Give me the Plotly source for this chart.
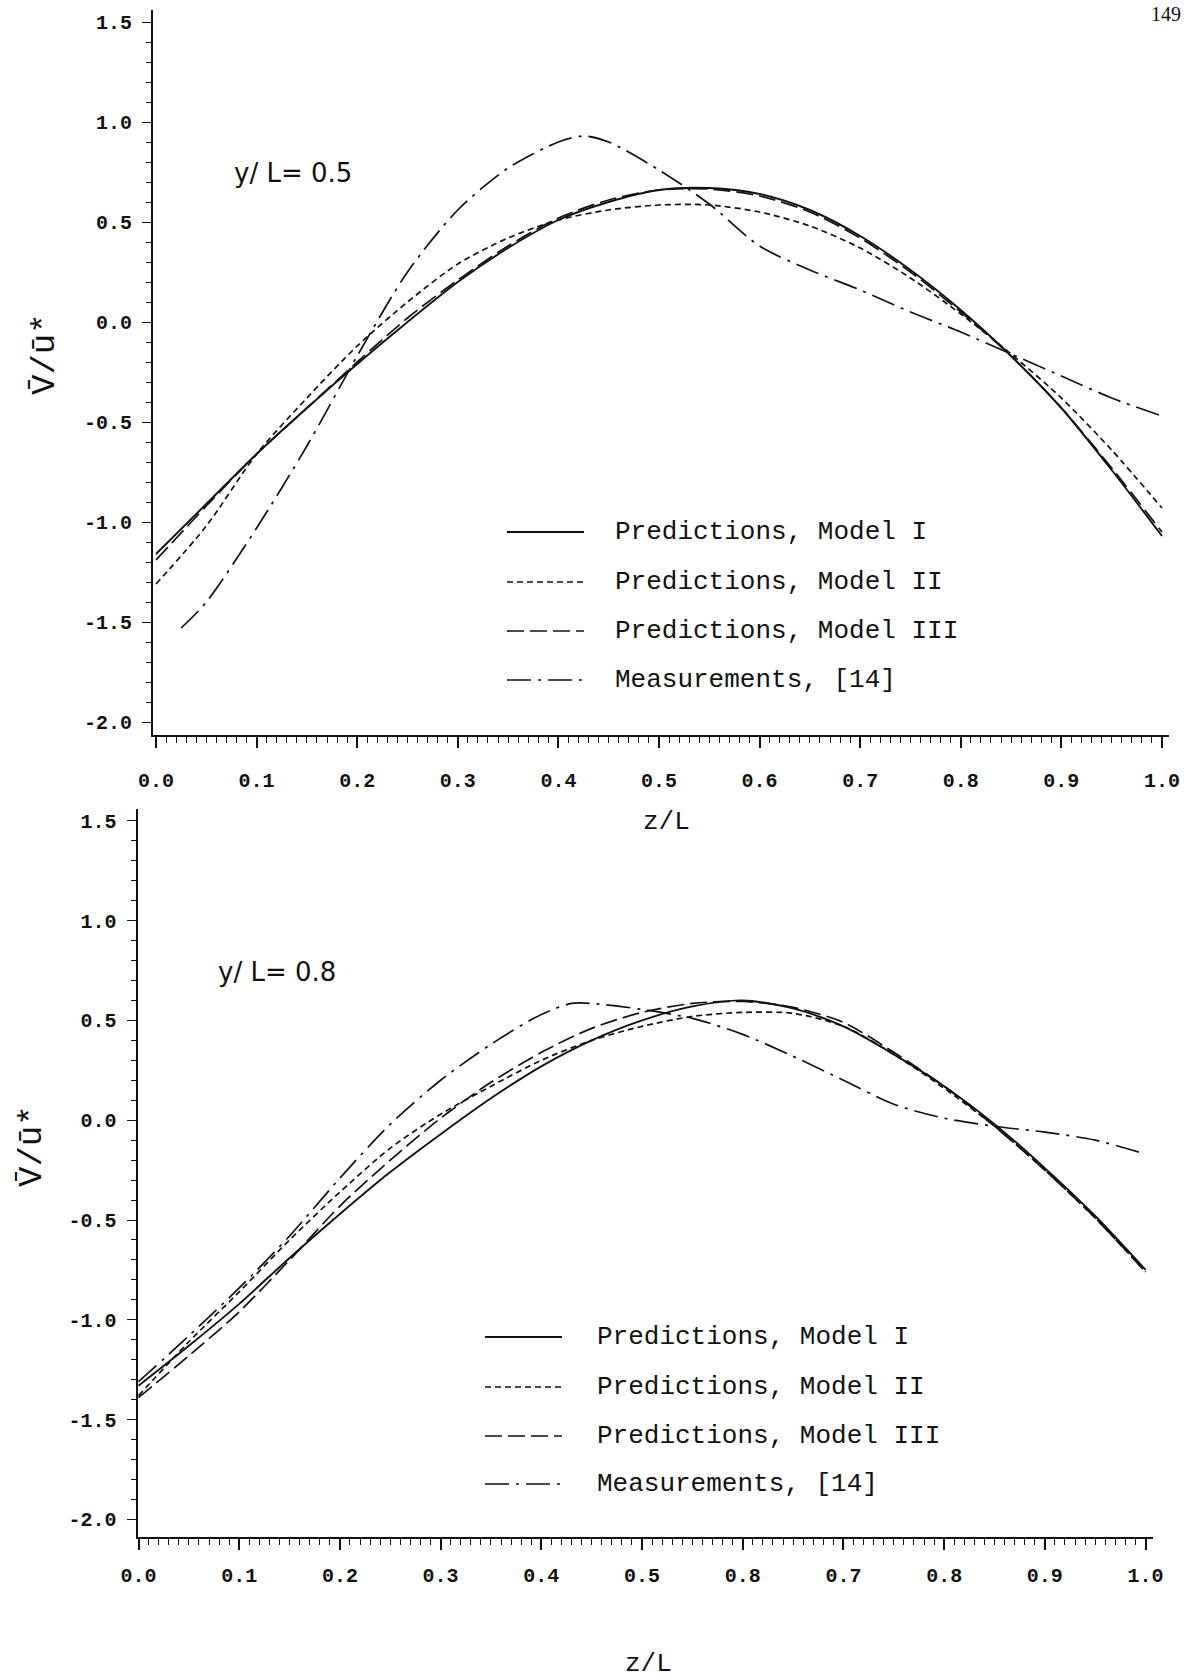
import plotly.graph_objects as go

W, H = 1186, 1680

# ---------------- data ----------------
z = [0.00, 0.05, 0.10, 0.15, 0.20, 0.25, 0.30, 0.35, 0.40, 0.45, 0.50,
     0.55, 0.60, 0.65, 0.70, 0.75, 0.80, 0.85, 0.90, 0.95, 1.00]

# y/L = 0.5
top_model1 = [-1.16, -0.91, -0.66, -0.43, -0.21, 0.00, 0.20, 0.37, 0.51, 0.60, 0.66,
              0.67, 0.64, 0.56, 0.43, 0.26, 0.06, -0.17, -0.43, -0.74, -1.07]
top_model2 = [-1.31, -1.02, -0.66, -0.38, -0.12, 0.10, 0.29, 0.42, 0.51, 0.56, 0.585,
              0.585, 0.55, 0.48, 0.37, 0.22, 0.04, -0.16, -0.38, -0.64, -0.93]
top_model3 = [-1.19, -0.92, -0.66, -0.43, -0.20, 0.02, 0.21, 0.38, 0.52, 0.61, 0.66,
              0.665, 0.63, 0.55, 0.42, 0.25, 0.05, -0.17, -0.43, -0.73, -1.05]
top_meas_z = [0.025, 0.05, 0.10, 0.15, 0.20, 0.25, 0.30, 0.35, 0.40, 0.425, 0.45, 0.50,
              0.55, 0.60, 0.65, 0.70, 0.75, 0.80, 0.85, 0.90, 0.95, 1.00]
top_meas = [-1.53, -1.40, -1.03, -0.62, -0.17, 0.25, 0.56, 0.77, 0.90, 0.93, 0.90, 0.76,
            0.59, 0.38, 0.26, 0.16, 0.05, -0.05, -0.16, -0.27, -0.38, -0.47]

# y/L = 0.8
bot_model1 = [-1.33, -1.13, -0.92, -0.69, -0.47, -0.26, -0.07, 0.11, 0.27, 0.40, 0.50,
              0.57, 0.60, 0.56, 0.47, 0.33, 0.17, -0.02, -0.24, -0.48, -0.75]
bot_model2 = [-1.38, -1.11, -0.86, -0.60, -0.36, -0.14, 0.03, 0.17, 0.30, 0.40, 0.47,
              0.52, 0.54, 0.535, 0.47, 0.33, 0.16, -0.03, -0.25, -0.49, -0.76]
bot_model3 = [-1.39, -1.18, -0.96, -0.70, -0.43, -0.20, 0.01, 0.19, 0.34, 0.46, 0.54,
              0.585, 0.595, 0.565, 0.49, 0.34, 0.17, -0.03, -0.25, -0.49, -0.76]
bot_meas_z = [0.00, 0.05, 0.10, 0.15, 0.20, 0.25, 0.30, 0.35, 0.40, 0.43, 0.45, 0.50,
              0.55, 0.60, 0.65, 0.70, 0.75, 0.80, 0.85, 0.90, 0.95, 1.00]
bot_meas = [-1.31, -1.08, -0.84, -0.58, -0.29, -0.02, 0.20, 0.38, 0.53, 0.585, 0.585, 0.555,
            0.51, 0.43, 0.32, 0.20, 0.08, 0.01, -0.03, -0.06, -0.10, -0.17]

series_names = ["Predictions, Model I", "Predictions, Model II",
                "Predictions, Model III", "Measurements, [14]"]
panel_labels = ["y/ L= 0.5", "y/ L= 0.8"]

x_ticks = [0.0, 0.1, 0.2, 0.3, 0.4, 0.5, 0.6, 0.7, 0.8, 0.9, 1.0]
x_ticktext_top = ["0.0", "0.1", "0.2", "0.3", "0.4", "0.5", "0.6", "0.7", "0.8", "0.9", "1.0"]
x_ticktext_bot = ["0.0", "0.1", "0.2", "0.3", "0.4", "0.5", "0.8", "0.7", "0.8", "0.9", "1.0"]
y_ticks = [-2.0, -1.5, -1.0, -0.5, 0.0, 0.5, 1.0, 1.5]
y_ticktext = ["-2.0", "-1.5", "-1.0", "-0.5", "0.0", "0.5", "1.0", "1.5"]

# ---------------- styles ----------------
INK = "#111111"
DASHES = ["solid", "6px,4px", "17px,6px", "24px,7px,3px,7px"]
WIDTHS = [1.9, 1.7, 1.7, 1.7]
MONO = "Liberation Mono"

fig = go.Figure()


def add_panel(xs_list, ys_list, xa, ya):
    for i, (xs, ys) in enumerate(zip(xs_list, ys_list)):
        fig.add_trace(go.Scatter(
            x=xs, y=ys, mode="lines", name=series_names[i], showlegend=False,
            line=dict(color=INK, width=WIDTHS[i], dash=DASHES[i], shape="spline",
                      smoothing=0.8),
            xaxis=xa, yaxis=ya, hoverinfo="skip"))


add_panel([z, z, z, top_meas_z], [top_model1, top_model2, top_model3, top_meas], "x", "y")
add_panel([z, z, z, bot_meas_z], [bot_model1, bot_model2, bot_model3, bot_meas], "x2", "y2")


def px_x(v):
    return v / W


def px_y(v):
    return 1 - v / H


tick_font = dict(family=MONO, size=20, color=INK, weight="bold")


def xaxis_cfg(dom, rng, ticktext, anchor, standoff):
    return dict(domain=dom, range=rng, anchor=anchor, automargin=False,
                showline=True, linewidth=2, linecolor=INK, mirror=False,
                showgrid=False, zeroline=False,
                ticks="outside", ticklen=11, tickwidth=1.6, tickcolor=INK,
                tickmode="array", tickvals=x_ticks, ticktext=ticktext,
                tickfont=tick_font, ticklabelstandoff=standoff,
                minor=dict(tickmode="linear", tick0=0, dtick=0.01, ticks="outside",
                           ticklen=6, tickwidth=1.2, tickcolor=INK, showgrid=False))


def yaxis_cfg(dom, rng, anchor):
    return dict(domain=dom, range=rng, anchor=anchor, automargin=False,
                showline=True, linewidth=2, linecolor=INK,
                showgrid=False, zeroline=False,
                ticks="outside", ticklen=9, tickwidth=1.4, tickcolor=INK,
                tickmode="array", tickvals=y_ticks, ticktext=y_ticktext,
                tickfont=tick_font, ticklabelstandoff=6,
                minor=dict(tickmode="linear", tick0=0, dtick=0.1, ticks="outside",
                           ticklen=5, tickwidth=1.2, tickcolor=INK, showgrid=False))


fig.update_layout(
    width=W, height=H, margin=dict(l=0, r=0, t=0, b=0, autoexpand=False),
    paper_bgcolor="white", plot_bgcolor="white",
    xaxis=xaxis_cfg([px_x(153), px_x(1169)], [-0.003, 1.007], x_ticktext_top, "y", 15),
    yaxis=yaxis_cfg([px_y(735), px_y(10)], [-2.065, 1.56], "x"),
    xaxis2=xaxis_cfg([px_x(137.5), px_x(1152.6)], [-0.001, 1.007], x_ticktext_bot, "y2", 8),
    yaxis2=yaxis_cfg([px_y(1537.4), px_y(808.8)], [-2.09, 1.56], "x2"),
)

annotations = []
shapes = []


def text(x, y, s, size, family, angle=0, xanchor="center", yanchor="middle"):
    annotations.append(dict(x=px_x(x), y=px_y(y), xref="paper", yref="paper", text=s,
                            showarrow=False, xanchor=xanchor, yanchor=yanchor,
                            textangle=angle,
                            font=dict(family=family, size=size, color=INK)))


# axis titles
text(666, 822, "z/L", 26, MONO)
text(648, 1664, "z/L", 26, MONO)
text(45, 354, "V\u0304/\u016b*", 34, MONO, angle=-90)
text(32, 1146, "V\u0304/\u016b*", 34, MONO, angle=-90)

# panel labels
text(232, 173, panel_labels[0], 26, "DejaVu Sans", xanchor="left")
text(216, 972, panel_labels[1], 26, "DejaVu Sans", xanchor="left")

# page number at the top edge
text(1183, 1, "149", 20, "Liberation Serif", xanchor="right", yanchor="top")


# legend keys and entries
def legend(rows, x0, x1, xt):
    for i, yy in enumerate(rows):
        shapes.append(dict(type="line", xref="paper", yref="paper",
                           x0=px_x(x0), x1=px_x(x1), y0=px_y(yy), y1=px_y(yy),
                           line=dict(color=INK, width=WIDTHS[i], dash=DASHES[i])))
        text(xt, yy, series_names[i], 26, MONO, xanchor="left")


legend([532, 582, 631, 680], 507, 584, 613)
legend([1337, 1387, 1436, 1484], 485, 562, 595)

fig.update_layout(annotations=annotations, shapes=shapes)

fig.write_html("out.html")
